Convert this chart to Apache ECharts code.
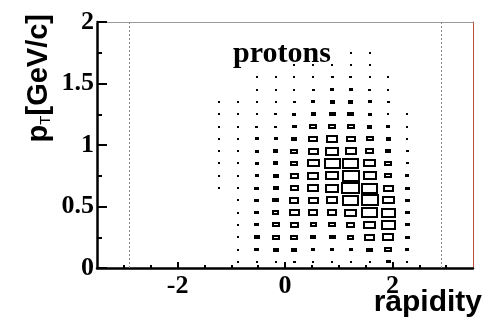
<!DOCTYPE html>
<html>
<head>
<meta charset="utf-8">
<script src="https://cdn.jsdelivr.net/npm/echarts@6.0.0/dist/echarts.min.js"></script>
<style>
html, body { margin: 0; padding: 0; background: #fff; }
#mychart { width: 493px; height: 320px; }
</style>
</head>
<body>
<div id="mychart"></div>
<script>
// bin centres: rapidity (width 0.35), pT (width 0.1)
var rapidityBins = [-1.225, -0.875, -0.525, -0.175, 0.175, 0.525, 0.875, 1.225, 1.575, 1.925, 2.275];
var ptBins = [0.05, 0.15, 0.25, 0.35, 0.45, 0.55, 0.65, 0.75, 0.85, 0.95, 1.05, 1.15, 1.25, 1.35, 1.45, 1.55, 1.65, 1.75];
var binWidth = 0.35;
var binHeight = 0.1;

// counts, one array per rapidity column, from low pT upward (0 = empty)
var counts = [
    [0, 0, 0, 0, 0, 0, 8, 8, 8, 8, 8, 8, 8, 8, 0, 0, 0, 0],
    [8, 9, 9, 9, 9, 9, 9, 12, 9, 9, 9, 8, 8, 8, 0, 0, 0, 0],
    [11, 28, 32, 28, 28, 26, 26, 23, 23, 23, 20, 17, 12, 11, 8, 8, 0, 0],
    [12, 32, 43, 43, 37, 35, 32, 32, 29, 29, 23, 18, 14, 11, 8, 8, 0, 0],
    [14, 32, 43, 50, 60, 55, 50, 46, 43, 41, 32, 26, 20, 14, 11, 8, 8, 0],
    [11, 23, 32, 38, 53, 58, 63, 63, 67, 58, 52, 41, 29, 23, 14, 10, 9, 0],
    [11, 19, 35, 44, 53, 63, 74, 74, 88, 74, 63, 41, 35, 29, 23, 18, 9, 0],
    [11, 23, 38, 49, 68, 89, 100, 95, 88, 63, 52, 41, 35, 29, 20, 14, 9, 9],
    [13, 35, 58, 68, 89, 95, 89, 74, 67, 47, 41, 29, 23, 23, 18, 11, 9, 9],
    [24, 44, 65, 79, 79, 68, 58, 44, 41, 32, 29, 23, 11, 16, 11, 10, 0, 0],
    [11, 19, 28, 28, 28, 28, 26, 23, 18, 14, 10, 10, 10, 0, 0, 0, 0, 0]
];

var beamRapidity = [-2.9, 2.9];
var xLabels = [-2, 0, 2];
var xMinorTicks = [-3, -2.5, -1.5, -1, -0.5, 0.5, 1, 1.5, 2.5, 3];

var boxData = [];
var maxCount = 0;
for (var c = 0; c < counts.length; c++) {
    for (var r = 0; r < counts[c].length; r++) {
        if (counts[c][r] > 0) {
            boxData.push([rapidityBins[c], ptBins[r], counts[c][r]]);
            if (counts[c][r] > maxCount) maxCount = counts[c][r];
        }
    }
}

var tickFont = {
    fontFamily: 'Liberation Serif',
    fontWeight: 'bold',
    fontSize: 26,
    color: '#000'
};

//box drawing: size proportional to content
function renderBox(params, api) {
    var center = api.coord([api.value(0), api.value(1)]);
    var cell = api.size([binWidth, binHeight]);
    var f = api.value(2) / maxCount;
    var w = cell[0] * f;
    var h = cell[1] * f;
    if (w < 3.5) {
        var ww = Math.max(Math.round(w), 2);
        var hh = Math.max(Math.round(h), 2);
        return {
            type: 'rect',
            shape: { x: Math.round(center[0] - ww / 2), y: Math.round(center[1] - hh / 2), width: ww, height: hh },
            style: { fill: '#000' }
        };
    }
    var bw = Math.round(w);
    var bh = Math.max(Math.round(h), 3);
    var x0 = Math.round(center[0] - bw / 2);
    var y0 = Math.round(center[1] - bh / 2);
    return {
        type: 'rect',
        shape: { x: x0 + 1, y: y0 + 1, width: bw - 2, height: bh - 2 },
        style: { fill: '#fff', stroke: '#000', lineWidth: 2 }
    };
}

var myChart = echarts.init(document.getElementById('mychart'));
myChart.setOption({
    animation: false,
    backgroundColor: '#fff',
    grid: {
        left: 97,
        top: 22,
        width: 376,
        height: 246,
        containLabel: false,
        outerBoundsMode: 'none'
    },
    xAxis: [
        {
            type: 'value',
            min: -3.5,
            max: 3.5,
            position: 'bottom',
            axisLine: { onZero: false, lineStyle: { color: '#000', width: 2.5 } },
            axisTick: { inside: true, length: 6, customValues: xLabels, lineStyle: { color: '#000', width: 2 } },
            axisLabel: Object.assign({ customValues: xLabels, margin: 5 }, tickFont),
            splitLine: { show: false }
        },
        {
            type: 'value',
            min: -3.5,
            max: 3.5,
            position: 'bottom',
            axisLine: { show: false, onZero: false },
            axisTick: { inside: true, length: 3, customValues: xMinorTicks, lineStyle: { color: '#000', width: 2 } },
            axisLabel: { show: false },
            splitLine: { show: false }
        },
        {
            type: 'value',
            min: -3.5,
            max: 3.5,
            position: 'top',
            axisLine: { onZero: false, lineStyle: { color: '#999', width: 1 } },
            axisTick: { show: false },
            axisLabel: { show: false },
            splitLine: { show: false }
        }
    ],
    yAxis: [
        {
            type: 'value',
            min: 0,
            max: 2,
            interval: 0.5,
            position: 'left',
            axisLine: { onZero: false, lineStyle: { color: '#000', width: 2.5 } },
            axisTick: { inside: true, length: 10, lineStyle: { color: '#000', width: 2 } },
            minorTick: { show: true, splitNumber: 2, length: 5, lineStyle: { color: '#000', width: 2 } },
            axisLabel: Object.assign({ margin: 3 }, tickFont),
            splitLine: { show: false },
            minorSplitLine: { show: false }
        },
        {
            type: 'value',
            min: 0,
            max: 2,
            position: 'right',
            axisLine: { onZero: false, lineStyle: { color: '#b5533c', width: 1 } },
            axisTick: { show: false },
            axisLabel: { show: false },
            splitLine: { show: false }
        }
    ],
    graphic: [
        {
            type: 'text',
            x: 38,
            y: 14,
            rotation: Math.PI / 2,
            style: {
                text: '{m|p}{s|T}{m|[GeV/c]}',
                align: 'right',
                verticalAlign: 'middle',
                rich: {
                    m: { fontFamily: 'Liberation Sans', fontWeight: 'bold', fontSize: 29, fill: '#000', color: '#000', lineHeight: 31, verticalAlign: 'bottom' },
                    s: { fontFamily: 'Liberation Sans', fontSize: 15, fill: '#000', color: '#000', lineHeight: 31, verticalAlign: 'bottom' }
                }
            }
        },
        {
            type: 'text',
            x: 482,
            y: 303,
            style: {
                text: 'rapidity',
                fontFamily: 'Liberation Sans',
                fontWeight: 'bold',
                fontSize: 30,
                fill: '#000',
                align: 'right',
                verticalAlign: 'middle'
            }
        },
        {
            type: 'text',
            x: 233,
            y: 54,
            style: {
                text: 'protons',
                fontFamily: 'Liberation Serif',
                fontWeight: 'bold',
                fontSize: 30,
                fill: '#000',
                align: 'left',
                verticalAlign: 'middle'
            }
        }
    ],
    series: [
        {
            name: 'beam rapidity',
            type: 'line',
            data: [],
            markLine: {
                silent: true,
                symbol: ['none', 'none'],
                label: { show: false },
                lineStyle: { color: '#8a8a8a', type: [2, 2], width: 1 },
                data: beamRapidity.map(function (v) { return { xAxis: v }; })
            }
        },
        {
            name: 'protons',
            type: 'custom',
            renderItem: renderBox,
            data: boxData,
            z: 3
        }
    ]
});
</script>
</body>
</html>
